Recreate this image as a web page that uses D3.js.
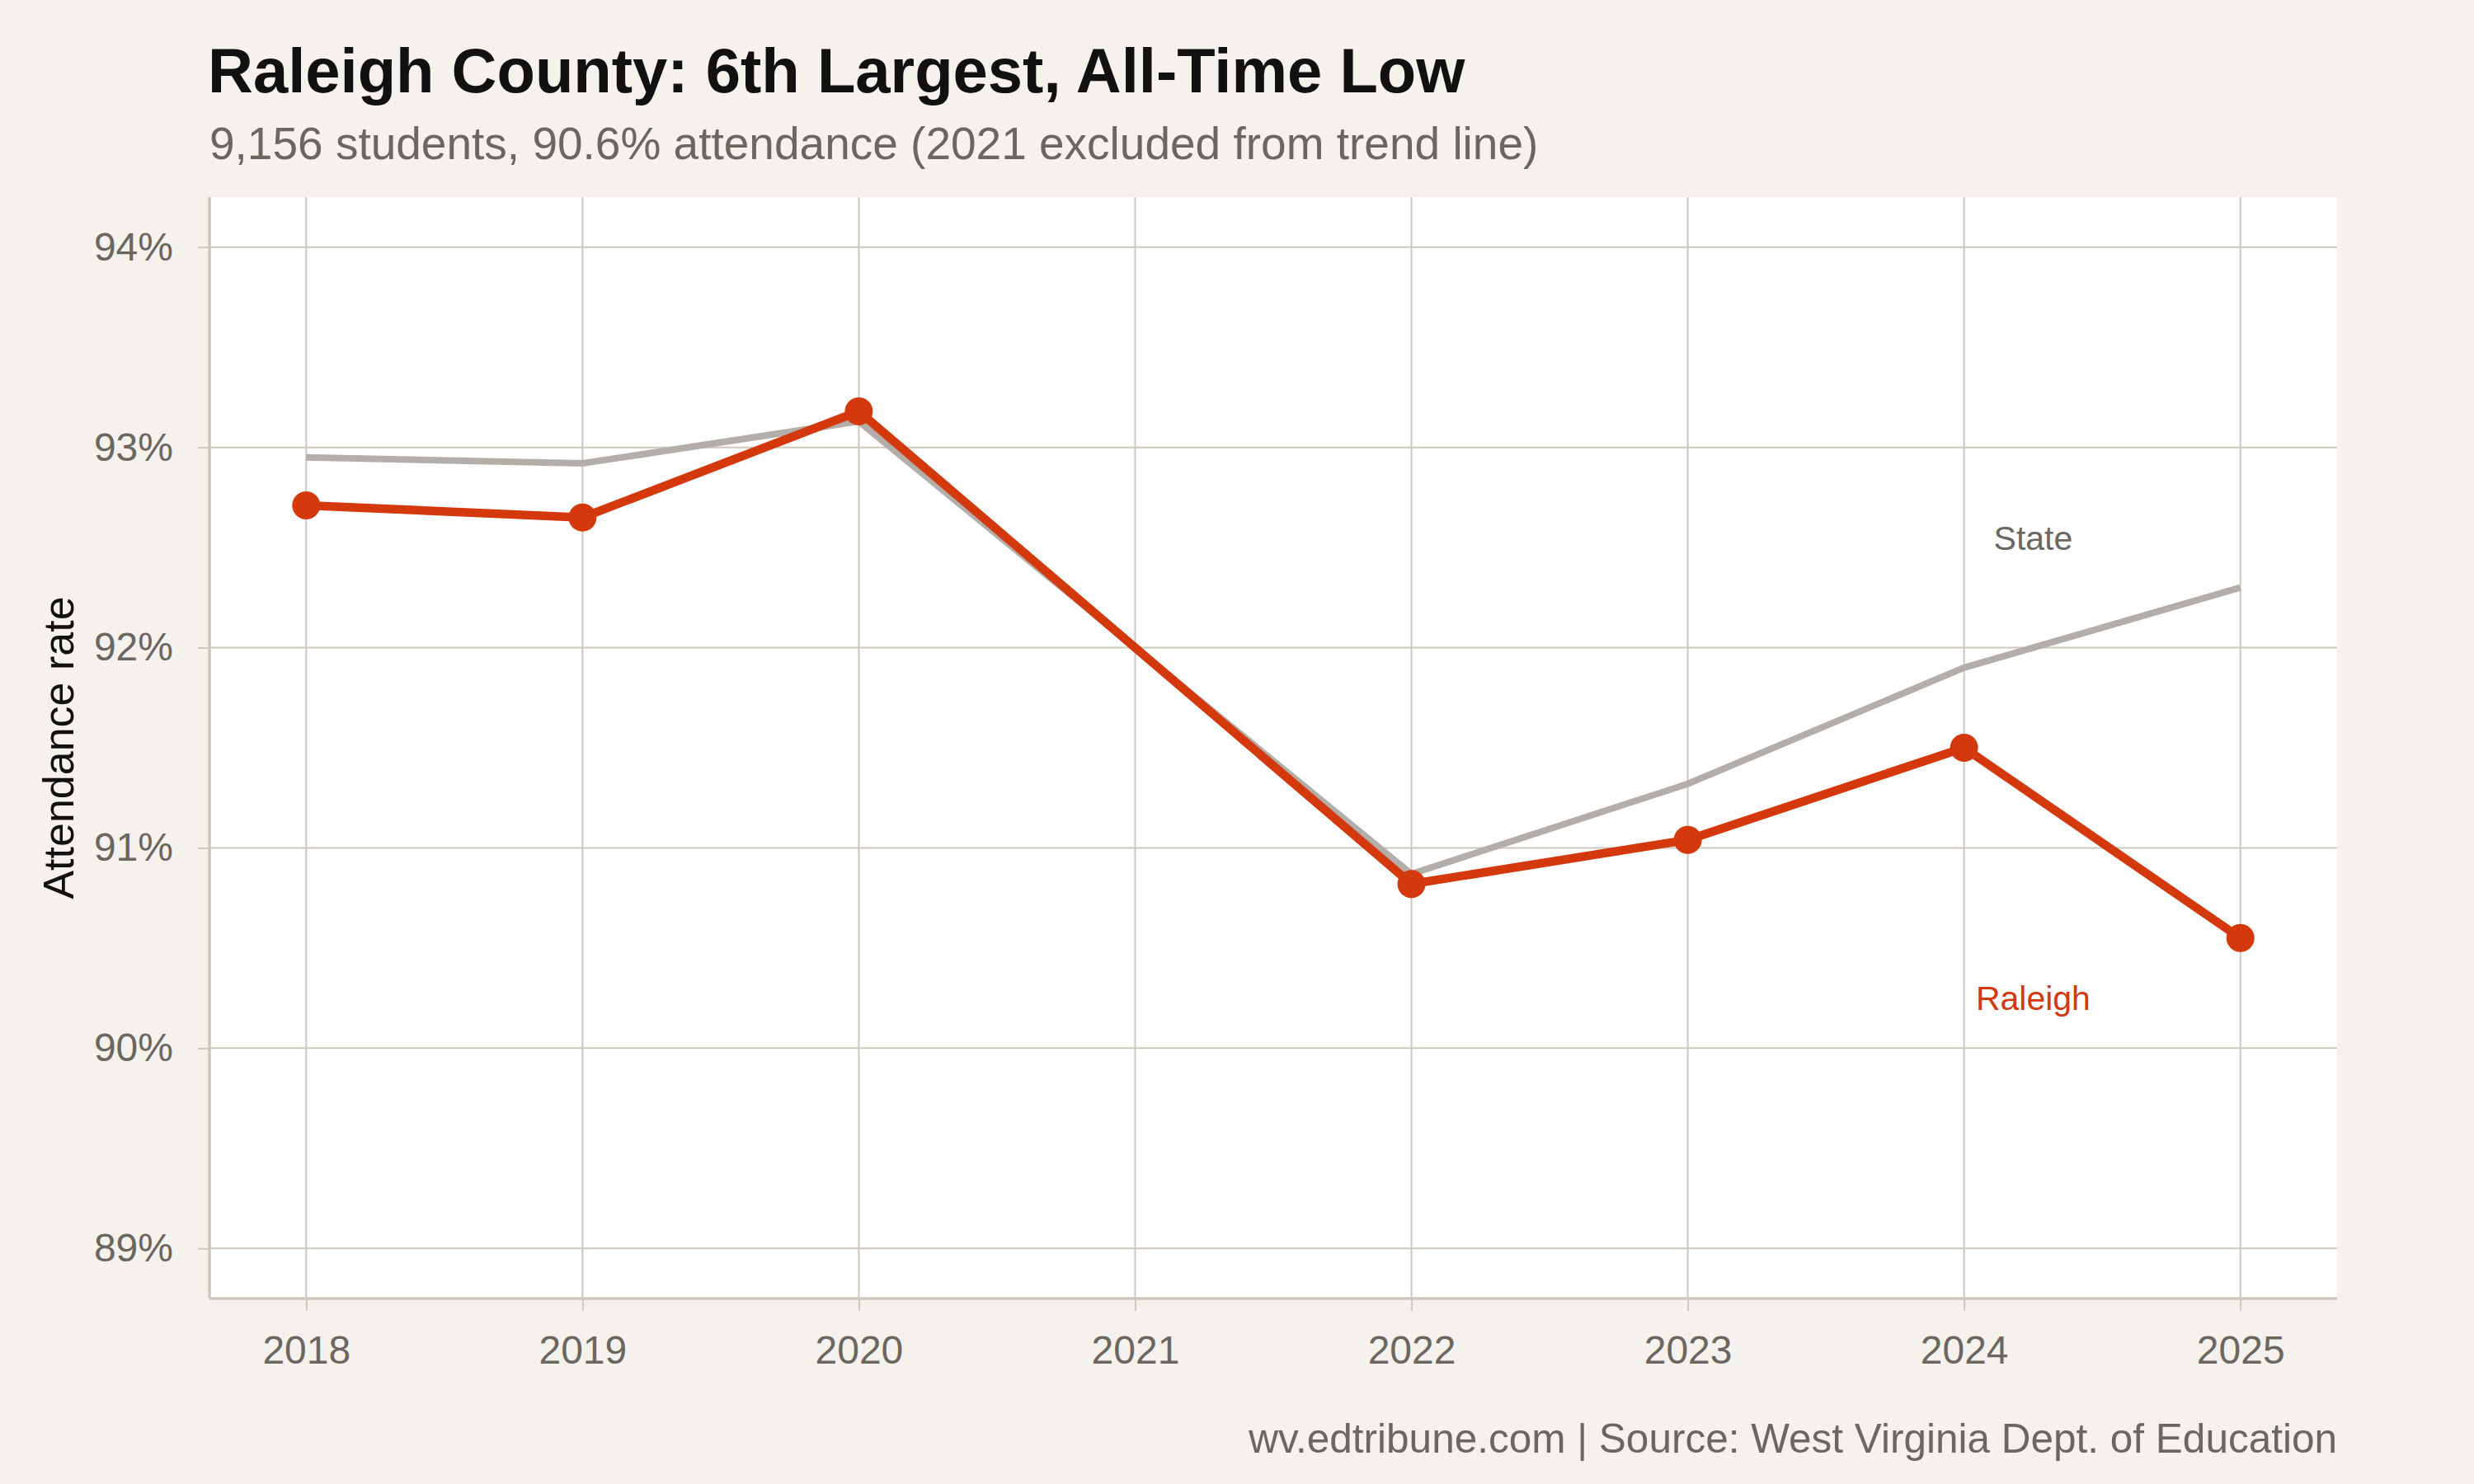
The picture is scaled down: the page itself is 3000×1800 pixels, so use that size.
<!DOCTYPE html>
<html>
<head>
<meta charset="utf-8">
<script src="https://cdn.jsdelivr.net/npm/d3@7"></script>
<style>
  body { margin: 0; background: #f5f2ed; }
  text { font-family: "Liberation Sans", Arial, Helvetica, sans-serif; }
</style>
</head>
<body>
<div id="chart"></div>
<script>
// Datos del gráfico
var years = [2018, 2019, 2020, 2022, 2023, 2024, 2025];
var raleigh = [92.71, 92.65, 93.18, 90.82, 91.04, 91.50, 90.55];
var state = [92.95, 92.92, 93.13, 90.87, 91.32, 91.90, 92.30];
var xTicks = [2018, 2019, 2020, 2021, 2022, 2023, 2024, 2025];
var yTicks = [89, 90, 91, 92, 93, 94];

var W = 3000, H = 1800;
var margin = {top: 239, right: 166, bottom: 225, left: 254},
    width = W - margin.left - margin.right,
    height = H - margin.top - margin.bottom;

var svg = d3.select("#chart").append("svg")
    .attr("width", W)
    .attr("height", H);

svg.append("rect").attr("width", W).attr("height", H).attr("fill", "#f5f2ed");

var g = svg.append("g")
    .attr("transform", "translate(" + margin.left + "," + margin.top + ")");

// Escalas con la expansión del 5%
var x = d3.scaleLinear().domain([2017.65, 2025.35]).range([0, width]);
var y = d3.scaleLinear().domain([88.75, 94.25]).range([height, 0]);

g.append("rect").attr("width", width).attr("height", height).attr("fill", "#ffffff");

var gridColor = "#cdc7bd";

// Rejilla
g.append("g")
  .selectAll("line").data(xTicks).enter().append("line")
    .attr("x1", d => x(d)).attr("x2", d => x(d))
    .attr("y1", 0).attr("y2", height)
    .attr("stroke", gridColor).attr("stroke-width", 2);

g.append("g")
  .selectAll("line").data(yTicks).enter().append("line")
    .attr("x1", 0).attr("x2", width)
    .attr("y1", d => y(d)).attr("y2", d => y(d))
    .attr("stroke", gridColor).attr("stroke-width", 2);

// Ejes
var xAxis = g.append("g")
    .attr("transform", "translate(0," + height + ")")
    .call(d3.axisBottom(x).tickValues(xTicks).tickFormat(d3.format("d")).tickSize(15).tickPadding(30));
var yAxis = g.append("g")
    .call(d3.axisLeft(y).tickValues(yTicks).tickFormat(d => d + "%").tickSize(14).tickPadding(30));

[xAxis, yAxis].forEach(function(a) {
  a.select(".domain").remove();
  a.selectAll(".tick line").attr("stroke", gridColor).attr("stroke-width", 2);
  a.selectAll(".tick text")
    .attr("fill", "#6b6660")
    .style("font-size", "48px")
    .style("font-family", "'Liberation Sans', Arial, sans-serif");
});

// Líneas de eje
g.append("line").attr("x1", 0).attr("x2", width).attr("y1", height).attr("y2", height)
  .attr("stroke", gridColor).attr("stroke-width", 3.5);
g.append("line").attr("x1", 0).attr("x2", 0).attr("y1", 0).attr("y2", height)
  .attr("stroke", gridColor).attr("stroke-width", 3.5);

var line = d3.line()
    .x(d => x(d[0]))
    .y(d => y(d[1]));

g.append("path")
    .datum(years.map((yr, i) => [yr, state[i]]))
    .attr("d", line)
    .attr("fill", "none")
    .attr("stroke", "#b3aeaa")
    .attr("stroke-width", 8);

g.append("path")
    .datum(years.map((yr, i) => [yr, raleigh[i]]))
    .attr("d", line)
    .attr("fill", "none")
    .attr("stroke", "#d4390e")
    .attr("stroke-width", 10.5);

g.selectAll(".dot")
    .data(years.map((yr, i) => [yr, raleigh[i]]))
  .enter().append("circle")
    .attr("class", "dot")
    .attr("cx", d => x(d[0]))
    .attr("cy", d => y(d[1]))
    .attr("r", 17)
    .attr("fill", "#d4390e");

// Etiquetas de series
g.append("text")
    .attr("x", x(2024.25)).attr("y", y(92.49))
    .attr("text-anchor", "middle")
    .attr("fill", "#6b6660")
    .style("font-size", "41px")
    .text("State");

g.append("text")
    .attr("x", x(2024.25)).attr("y", y(90.19))
    .attr("text-anchor", "middle")
    .attr("fill", "#d4390e")
    .style("font-size", "41px")
    .text("Raleigh");

// Título del eje Y
svg.append("text")
    .attr("transform", "translate(89," + (margin.top + height / 2) + ") rotate(-90)")
    .attr("text-anchor", "middle")
    .attr("fill", "#111111")
    .style("font-size", "52px")
    .text("Attendance rate");

// Títulos
svg.append("text")
    .attr("x", 252).attr("y", 112)
    .attr("fill", "#111111")
    .style("font-size", "76px")
    .style("font-weight", "bold")
    .text("Raleigh County: 6th Largest, All-Time Low");

svg.append("text")
    .attr("x", 254).attr("y", 193)
    .attr("fill", "#6b6660")
    .style("font-size", "55px")
    .text("9,156 students, 90.6% attendance (2021 excluded from trend line)");

svg.append("text")
    .attr("x", margin.left + width).attr("y", 1762)
    .attr("text-anchor", "end")
    .attr("fill", "#6b6660")
    .style("font-size", "49.5px")
    .text("wv.edtribune.com | Source: West Virginia Dept. of Education");
</script>
</body>
</html>
